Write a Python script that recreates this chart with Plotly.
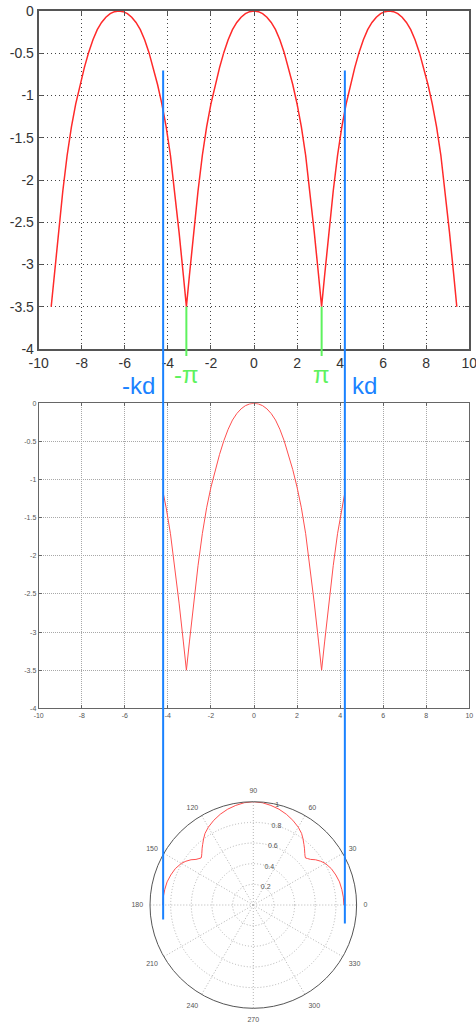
import plotly.graph_objects as go

# wave number times element spacing (edges of the visible region)
kd = 4.22
pi_mark = 3.1416

# Array factor in dB along psi, read lobe by lobe
psi_left = [-9.42, -9.28, -9.08, -8.88, -8.68, -8.48, -8.28, -8.08, -7.88, -7.68, -7.48,
            -7.28, -7.08, -6.88, -6.68, -6.48, -6.28, -6.08, -5.88, -5.68, -5.48, -5.28,
            -5.08, -4.88, -4.68, -4.48, -4.28, -4.08, -3.88, -3.68, -3.48, -3.28, -3.14]
af_left = [-3.50, -3.13, -2.62, -2.13, -1.71, -1.37, -1.10, -0.87, -0.67, -0.49, -0.34,
           -0.22, -0.135, -0.073, -0.031, -0.008, 0.0, -0.008, -0.031, -0.073, -0.135, -0.22,
           -0.34, -0.49, -0.67, -0.87, -1.10, -1.37, -1.71, -2.13, -2.62, -3.13, -3.50]

psi_mid = [-3.0, -2.8, -2.6, -2.4, -2.2, -2.0, -1.8, -1.6, -1.4, -1.2, -1.0, -0.8, -0.6,
           -0.4, -0.2, 0.0, 0.2, 0.4, 0.6, 0.8, 1.0, 1.2, 1.4, 1.6, 1.8, 2.0, 2.2, 2.4,
           2.6, 2.8, 3.0, 3.14]
af_mid = [-3.13, -2.62, -2.13, -1.71, -1.37, -1.10, -0.87, -0.67, -0.49, -0.34, -0.22,
          -0.135, -0.073, -0.031, -0.008, 0.0, -0.008, -0.031, -0.073, -0.135, -0.22, -0.34,
          -0.49, -0.67, -0.87, -1.10, -1.37, -1.71, -2.13, -2.62, -3.13, -3.50]

psi_right = [3.28, 3.48, 3.68, 3.88, 4.08, 4.28, 4.48, 4.68, 4.88, 5.08, 5.28, 5.48, 5.68,
             5.88, 6.08, 6.28, 6.48, 6.68, 6.88, 7.08, 7.28, 7.48, 7.68, 7.88, 8.08, 8.28,
             8.48, 8.68, 8.88, 9.08, 9.28, 9.42]
af_right = [-3.13, -2.62, -2.13, -1.71, -1.37, -1.10, -0.87, -0.67, -0.49, -0.34, -0.22,
            -0.135, -0.073, -0.031, -0.008, 0.0, -0.008, -0.031, -0.073, -0.135, -0.22, -0.34,
            -0.49, -0.67, -0.87, -1.10, -1.37, -1.71, -2.13, -2.62, -3.13, -3.50]

# Visible region only: -kd <= psi <= kd
psi_visible = [-4.22, -4.08, -3.88, -3.68, -3.48, -3.28, -3.14, -3.0, -2.8, -2.6, -2.4,
               -2.2, -2.0, -1.8, -1.6, -1.4, -1.2, -1.0, -0.8, -0.6, -0.4, -0.2, 0.0,
               0.2, 0.4, 0.6, 0.8, 1.0, 1.2, 1.4, 1.6, 1.8, 2.0, 2.2, 2.4, 2.6, 2.8,
               3.0, 3.14, 3.28, 3.48, 3.68, 3.88, 4.08, 4.22]
af_visible = [-1.17, -1.37, -1.71, -2.13, -2.62, -3.13, -3.50, -3.13, -2.62, -2.13, -1.71,
              -1.37, -1.10, -0.87, -0.67, -0.49, -0.34, -0.22, -0.135, -0.073, -0.031, -0.008,
              0.0, -0.008, -0.031, -0.073, -0.135, -0.22, -0.34, -0.49, -0.67, -0.87, -1.10,
              -1.37, -1.71, -2.13, -2.62, -3.13, -3.50, -3.13, -2.62, -2.13, -1.71, -1.37,
              -1.17]

# Radiation pattern (linear magnitude) over the upper half plane
theta_deg = [0, 5, 10, 15, 20, 25, 30, 33, 36, 38.5, 40.5, 42, 43.5, 45, 48, 50, 53, 56,
             60, 65, 70, 75, 80, 85, 90, 95, 100, 105, 110, 115, 120, 124, 127, 130, 132,
             135, 136.5, 138, 139.5, 141.5, 144, 147, 150, 155, 160, 165, 170, 175, 180]
pattern_r = [0.877, 0.875, 0.870, 0.864, 0.850, 0.833, 0.805, 0.778, 0.745, 0.709, 0.692,
             0.680, 0.690, 0.705, 0.740, 0.763, 0.800, 0.836, 0.870, 0.905, 0.935, 0.960,
             0.979, 0.994, 1.0, 0.994, 0.979, 0.960, 0.935, 0.905, 0.870, 0.836, 0.800,
             0.763, 0.740, 0.705, 0.690, 0.680, 0.692, 0.709, 0.745, 0.778, 0.805, 0.833,
             0.850, 0.864, 0.870, 0.875, 0.877]

# Tick labels
x_ticks = [-10, -8, -6, -4, -2, 0, 2, 4, 6, 8, 10]
x_ticklabels = ["-10", "-8", "-6", "-4", "-2", "0", "2", "4", "6", "8", "10"]
y_ticks = [0, -0.5, -1, -1.5, -2, -2.5, -3, -3.5, -4]
y_ticklabels = ["0", "-0.5", "-1", "-1.5", "-2", "-2.5", "-3", "-3.5", "-4"]
angle_ticks = [0, 30, 60, 90, 120, 150, 180, 210, 240, 270, 300, 330]
angle_ticklabels = ["0", "30", "60", "90", "120", "150", "180", "210", "240", "270", "300", "330"]
r_ticks = [0.2, 0.4, 0.6, 0.8, 1.0]
r_ticklabels = ["0.2", "0.4", "0.6", "0.8", "1"]

FONT = "Liberation Sans, Arial, sans-serif"
RED = "#ff2a2a"
BLUE = "#1a82ff"
GREEN = "#5ef25e"

fig = go.Figure()

fig.add_trace(go.Scatter(x=psi_left + psi_mid + psi_right, y=af_left + af_mid + af_right,
                         mode="lines", line=dict(color=RED, width=1.5),
                         xaxis="x", yaxis="y", hoverinfo="skip"))
fig.add_trace(go.Scatter(x=psi_visible, y=af_visible, mode="lines",
                         line=dict(color="#ff4f4f", width=1),
                         xaxis="x2", yaxis="y2", hoverinfo="skip"))
fig.add_trace(go.Scatterpolar(theta=theta_deg, r=pattern_r, mode="lines",
                              line=dict(color="#ff4f4f", width=1), subplot="polar",
                              hoverinfo="skip"))

W, H = 476, 1023


def px_y(y_px):
    return (H - y_px) / H


def px_x(x_px):
    return x_px / W


top_axis = dict(range=[-10, 10], tickmode="array", tickvals=x_ticks, ticktext=x_ticklabels,
                showline=True, linecolor="#555", linewidth=2, mirror="ticks",
                ticks="inside", ticklen=4, tickcolor="#555", tickwidth=1,
                showgrid=True, gridcolor="#444", gridwidth=1, griddash="1px,3px",
                zeroline=False, automargin=False, ticklabeloverflow="allow",
                tickfont=dict(family=FONT, size=14, color="#333"))
top_yaxis = dict(top_axis, range=[-4, 0], tickvals=y_ticks, ticktext=y_ticklabels)

mid_axis = dict(range=[-10, 10], tickmode="array", tickvals=x_ticks, ticktext=x_ticklabels,
                showline=True, linecolor="#666", linewidth=1, mirror="ticks",
                ticks="inside", ticklen=3, tickcolor="#666", tickwidth=1,
                showgrid=True, gridcolor="#a8a8a8", gridwidth=1, griddash="1px,1px",
                zeroline=False, automargin=False, ticklabeloverflow="allow",
                tickfont=dict(family=FONT, size=7, color="#555"))
mid_yaxis = dict(mid_axis, range=[-4, 0], tickvals=y_ticks, ticktext=y_ticklabels)

fig.update_layout(
    width=W, height=H, autosize=False, margin=dict(l=0, r=0, t=0, b=0, autoexpand=False),
    paper_bgcolor="white", plot_bgcolor="white", showlegend=False,
    xaxis=dict(top_axis, domain=[px_x(38.7), px_x(469.3)], anchor="y"),
    yaxis=dict(top_yaxis, domain=[px_y(349), px_y(11)], anchor="x"),
    xaxis2=dict(mid_axis, domain=[px_x(38.7), px_x(469.3)], anchor="y2"),
    yaxis2=dict(mid_yaxis, domain=[px_y(708.3), px_y(403.3)], anchor="x2"),
    polar=dict(
        domain=dict(x=[px_x(150), px_x(356.6)], y=[px_y(1008.3), px_y(801.7)]),
        bgcolor="white",
        radialaxis=dict(range=[0, 1], tickmode="array", tickvals=r_ticks,
                        ticktext=r_ticklabels, angle=80, showline=False, ticks="",
                        tickangle=80, gridcolor="#b4b4b4", griddash="1px,2px",
                        tickfont=dict(family=FONT, size=7, color="#555")),
        angularaxis=dict(rotation=0, direction="counterclockwise", tickmode="array",
                         tickvals=angle_ticks, ticktext=angle_ticklabels,
                         showline=True, linecolor="#555", linewidth=1,
                         ticks="outside", ticklen=5, tickcolor="rgba(0,0,0,0)",
                         gridcolor="#b4b4b4", griddash="1px,2px",
                         tickfont=dict(family=FONT, size=7, color="#555")),
    ),
)

# Visible-region bounds at psi = -kd and psi = +kd, running through all three panels
fig.add_shape(type="line", xref="x", yref="paper", x0=-kd, x1=-kd,
              y0=px_y(919.5), y1=px_y(70.5), line=dict(color=BLUE, width=2))
fig.add_shape(type="line", xref="x", yref="paper", x0=kd, x1=kd,
              y0=px_y(923.5), y1=px_y(70.5), line=dict(color=BLUE, width=2))

# Nulls of the pattern at psi = -pi and psi = +pi
for sgn in (-1, 1):
    fig.add_shape(type="line", xref="x", yref="paper", x0=sgn * pi_mark, x1=sgn * pi_mark,
                  y0=px_y(356), y1=px_y(306.7), line=dict(color=GREEN, width=2))

fig.add_annotation(x=-kd, xref="x", y=px_y(385), yref="paper", text="-kd",
                   showarrow=False, xanchor="right", yanchor="middle", xshift=-6,
                   font=dict(family=FONT, size=24, color=BLUE))
fig.add_annotation(x=kd, xref="x", y=px_y(385), yref="paper", text="kd",
                   showarrow=False, xanchor="left", yanchor="middle", xshift=5,
                   font=dict(family=FONT, size=24, color=BLUE))
fig.add_annotation(x=-pi_mark, xref="x", y=px_y(374), yref="paper", text="-π",
                   showarrow=False, xanchor="center", yanchor="middle",
                   borderpad=0, borderwidth=0,
                   font=dict(family=FONT, size=24, color=GREEN))
fig.add_annotation(x=pi_mark, xref="x", y=px_y(374), yref="paper", text="π",
                   showarrow=False, xanchor="center", yanchor="middle",
                   borderpad=0, borderwidth=0,
                   font=dict(family=FONT, size=24, color=GREEN))

fig.write_html("out.html")
